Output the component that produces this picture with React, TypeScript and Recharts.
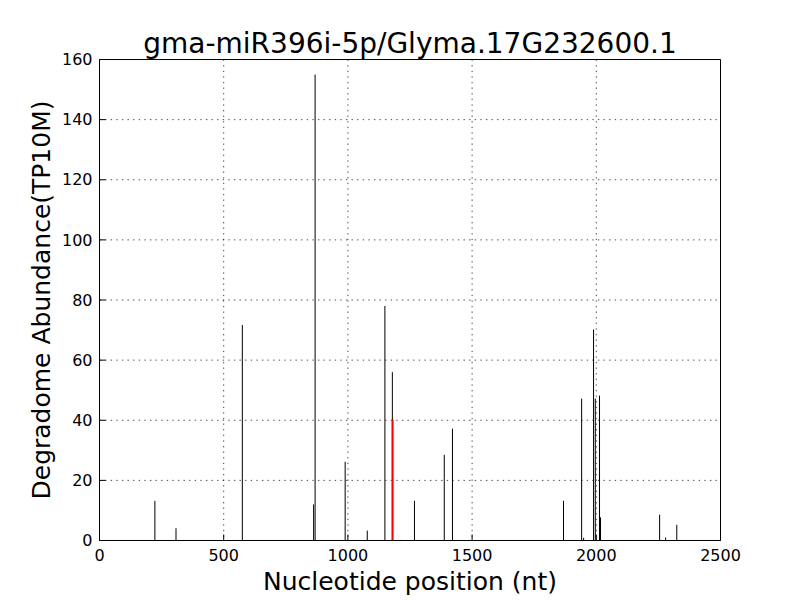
import { ComposedChart, Bar, XAxis, YAxis, CartesianGrid, Label, ReferenceArea } from 'recharts'

const FONT = '"DejaVu Sans", sans-serif'

const title = 'gma-miR396i-5p/Glyma.17G232600.1'

// degradome read positions (nt) and abundance (TP10M)
const sitePositions = [223, 308, 575, 862, 868, 989, 1078, 1149, 1179, 1180, 1268, 1388, 1421, 1868, 1941, 1949, 1989, 1996, 2013, 2017, 2255, 2279, 2324]
const siteValues = [13.2, 4.1, 71.7, 12, 155, 26.2, 3.3, 78, 56, 40.2, 13.2, 28.5, 37.2, 13.2, 47.2, 0.9, 70.2, 47.2, 48.2, 7.7, 8.6, 1, 5.2]
const cleavageSite = 1180

const xTicks = [0, 500, 1000, 1500, 2000, 2500]
const yTicks = [0, 20, 40, 60, 80, 100, 120, 140, 160]

const data = sitePositions.map((pos, i) => ({
  pos,
  value: siteValues[i],
  target: pos === cleavageSite,
}))

const tickStyle = { fill: '#000', fontSize: 16, fontFamily: FONT }

function Stem(props: any) {
  const { x, y, width, height, payload } = props
  const w = payload.target ? 2 : 1
  const cx = x + width / 2
  return <rect x={cx - w / 2} y={y} width={w} height={height} fill={payload.target ? '#ff0000' : '#000'} />
}

export default function App() {
  return (
    <div style={{ position: 'absolute', left: 0, top: 0, width: 800, height: 600, background: '#fff', fontFamily: FONT }}>
      <svg width={800} height={60} style={{ position: 'absolute', left: 0, top: 0 }}>
        <text x={410} y={53} textAnchor="middle" fontSize={28} fontFamily={FONT} fill="#000">{title}</text>
      </svg>
      <ComposedChart
        width={800}
        height={600}
        data={data}
        margin={{ top: 59.5, right: 79.5, bottom: 29.5, left: 39.5 }}
        style={{ position: 'absolute', left: 0, top: 0 }}
      >
        <CartesianGrid xAxisId="bottom" yAxisId="left" stroke="#000" strokeWidth={0.7} strokeDasharray="1.4 4.2" />
        <ReferenceArea
          xAxisId="bottom"
          yAxisId="left"
          x1={0}
          x2={2500}
          y1={0}
          y2={160}
          fill="none"
          fillOpacity={0}
          stroke="#000"
          strokeWidth={1}
          ifOverflow="visible"
        />
        <XAxis
          xAxisId="bottom"
          dataKey="pos"
          type="number"
          domain={[0, 2500]}
          ticks={xTicks}
          allowDataOverflow
          height={30}
          tickSize={-6}
          tickMargin={15}
          tick={tickStyle}
          axisLine={{ stroke: '#000' }}
          tickLine={{ stroke: '#000' }}
        >
          <Label value="Nucleotide position (nt)" position="bottom" offset={2} fontSize={25} fontFamily={FONT} fill="#000" />
        </XAxis>
        <YAxis
          yAxisId="left"
          type="number"
          domain={[0, 160]}
          ticks={yTicks}
          allowDataOverflow
          width={60}
          tickSize={-6}
          tickMargin={13}
          tick={tickStyle}
          axisLine={{ stroke: '#000' }}
          tickLine={{ stroke: '#000' }}
        >
          <Label
            value="Degradome Abundance(TP10M)"
            angle={-90}
            position="insideLeft"
            offset={2}
            fontSize={25}
            fontFamily={FONT}
            fill="#000"
            style={{ textAnchor: 'middle' }}
          />
        </YAxis>
        <Bar xAxisId="bottom" yAxisId="left" dataKey="value" barSize={1} shape={<Stem />} isAnimationActive={false} />
      </ComposedChart>
    </div>
  )
}
